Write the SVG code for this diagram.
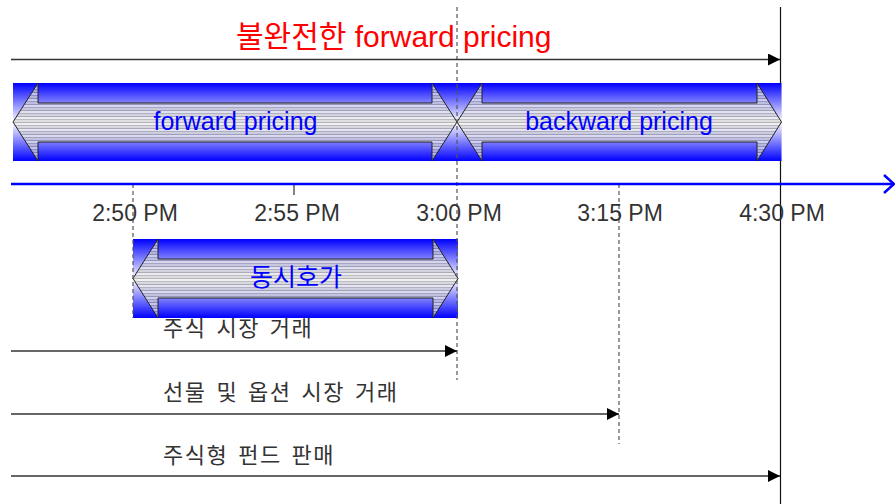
<svg xmlns="http://www.w3.org/2000/svg" width="895" height="504" viewBox="0 0 895 504">
<style>
.sans{font-family:"Liberation Sans","Noto Sans CJK KR",sans-serif}
.kr{font-family:"Noto Sans CJK KR","Liberation Sans",sans-serif}
.time{font-size:23px;fill:#333;text-anchor:middle}
.lbl{font-size:22px;fill:#333;letter-spacing:1.5px;word-spacing:3.5px}
.band{fill:url(#bandGrad)}
.arrow{fill:url(#stripes);fill-opacity:0.72;stroke:#222;stroke-width:1}
.barlbl{font-size:25px;fill:#0000ff;text-anchor:middle}
.dash{stroke:#555;stroke-width:1.2;stroke-dasharray:4,3;fill:none}
.conn{stroke:#333;stroke-width:1.3;fill:none;marker-end:url(#tri)}
</style>
<defs>
<linearGradient id="bandGrad" x1="0" y1="0" x2="0" y2="1">
<stop offset="0" stop-color="#0000ff"/>
<stop offset="0.5" stop-color="#ffffff"/>
<stop offset="1" stop-color="#0000ff"/>
</linearGradient>
<pattern id="stripes" patternUnits="userSpaceOnUse" x="0" y="0" width="10" height="6">
<rect x="0" y="0" width="10" height="2" fill="#d4d4d4"/>
<rect x="0" y="2" width="10" height="1" fill="#9a9a9a"/>
<rect x="0" y="3" width="10" height="2" fill="#eeeeee"/>
<rect x="0" y="5" width="10" height="1" fill="#a8a8a8"/>
</pattern>
<marker id="tri" viewBox="0 0 10 10" refX="10" refY="5" markerWidth="12" markerHeight="12" markerUnits="userSpaceOnUse" orient="auto">
<path d="M0,0 L10,5 L0,10 Z" fill="#000"/>
</marker>
</defs>
<rect width="895" height="504" fill="#fff"/>

<g id="line-430">
<line x1="780.5" y1="7" x2="780.5" y2="504" stroke="#111" stroke-width="1.2"/>
</g>

<g id="title">
<text class="sans" x="236" y="47" font-size="30" fill="#ff0000">불완전한 forward pricing</text>
</g>

<g id="pricing-band">
<rect class="band" x="13" y="83" width="768.5" height="78"/>
<path id="forward-arrow" class="arrow" d="M13,122 L38,83 L38,103 L432,103 L432,83 L457,122 L432,161 L432,142 L38,142 L38,161 Z"/>
<path id="backward-arrow" class="arrow" d="M457,122 L482,83 L482,103 L757,103 L757,83 L781.5,122 L757,161 L757,142 L482,142 L482,161 Z"/>
<text class="sans barlbl" x="235.5" y="130">forward pricing</text>
<text class="sans barlbl" x="619" y="130">backward pricing</text>
</g>

<g id="dongsi-band">
<rect class="band" x="133" y="239" width="325" height="79"/>
<path class="arrow" d="M133,278.5 L158,239 L158,259 L433,259 L433,239 L458,278.5 L433,318 L433,298 L158,298 L158,318 Z"/>
<text class="kr barlbl" x="296" y="286" font-size="23">동시호가</text>
</g>

<g id="guides">
<line class="dash" x1="457" y1="7" x2="457" y2="380"/>
<line class="dash" x1="133" y1="184" x2="133" y2="318"/>
<line class="dash" x1="619" y1="184" x2="619" y2="444"/>
<line x1="294" y1="184" x2="294" y2="195" stroke="#333" stroke-width="1.2"/>
</g>

<g id="axis">
<line x1="11" y1="184" x2="893" y2="184" stroke="#0000ff" stroke-width="2.5"/>
<polyline points="884,175 894,184 884,193" fill="none" stroke="#0000ff" stroke-width="2.5"/>
</g>

<g id="time-labels">
<text class="sans time" x="135" y="221">2:50 PM</text>
<text class="sans time" x="297" y="221">2:55 PM</text>
<text class="sans time" x="459" y="221">3:00 PM</text>
<text class="sans time" x="620" y="221">3:15 PM</text>
<text class="sans time" x="782" y="221">4:30 PM</text>
</g>

<g id="connectors">
<line class="conn" x1="11" y1="59.5" x2="780" y2="59.5"/>
<line class="conn" x1="11" y1="351" x2="457" y2="351"/>
<line class="conn" x1="11" y1="414" x2="619" y2="414"/>
<line class="conn" x1="11" y1="476" x2="780" y2="476"/>
</g>

<g id="row-labels">
<text class="kr lbl" x="163" y="336">주식 시장 거래</text>
<text class="kr lbl" x="163" y="400">선물 및 옵션 시장 거래</text>
<text class="kr lbl" x="163" y="463">주식형 펀드 판매</text>
</g>
</svg>
